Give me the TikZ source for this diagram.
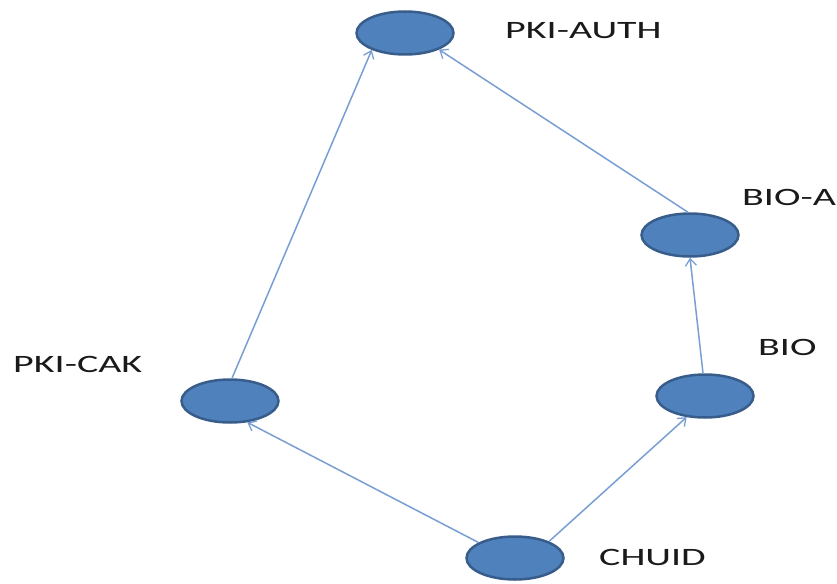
\documentclass[tikz,border=0pt]{standalone}
\usepackage{fontspec}
\newfontfamily\lblfont[FakeStretch=1.6]{Carlito}
\usetikzlibrary{shapes.geometric,arrows.meta}
\definecolor{nodefill}{RGB}{79,129,189}
\definecolor{nodeedge}{RGB}{56,93,138}
\definecolor{edgeblue}{RGB}{120,158,212}
\definecolor{lbltext}{RGB}{26,26,26}
\tikzset{
  state/.style={ellipse, draw=nodeedge, fill=nodefill, line width=2.5pt,
    minimum width=97pt, minimum height=43pt, inner sep=0pt},
  lbl/.style={anchor=base west, inner sep=0pt, text=lbltext,
    font=\lblfont\fontsize{25}{30}\selectfont},
  conn/.style={draw=edgeblue, line width=1.5pt,
    -{Straight Barb[length=7pt,width=11pt,line width=1.3pt]}}
}
\begin{document}
\begin{tikzpicture}[x=1pt,y=-1pt]
\useasboundingbox (0,0) rectangle (837,583);
\node[state] (auth) at (405,33) {};
\node[state] (bioa) at (690,235) {};
\node[state] (bio) at (705,396) {};
\node[state] (cak) at (230,401) {};
\node[state] (chuid) at (515,558) {};
\node[lbl] (lauth) at (505,39) {PKI-AUTH};
\node[lbl] (lbioa) at (742,205) {BIO-A};
\node[lbl] (lbio) at (758,355) {BIO};
\node[lbl] (lcak) at (13,372) {PKI-CAK};
\node[lbl] (lchuid) at (599,565) {CHUID};
\draw[conn] (cak.85) -- (auth.207);
\draw[conn] (bioa.95) -- (auth.334);
\draw[conn] (bio.95) -- (bioa.270);
\draw[conn] (chuid.26) -- (bio.229);
\draw[conn] (chuid.157) -- (cak.309);
\end{tikzpicture}
\end{document}
